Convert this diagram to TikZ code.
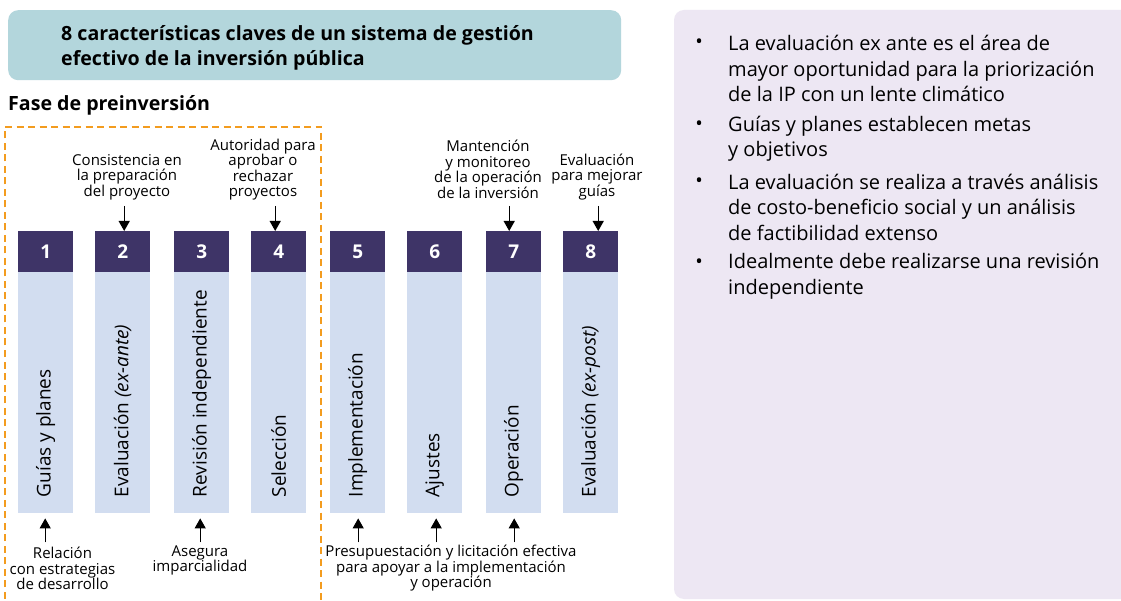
\documentclass[tikz,border=0pt]{standalone}
\usepackage{fontspec}
\setmainfont{Open Sans}
\usetikzlibrary{arrows.meta,calc}
\definecolor{titlebg}{HTML}{B3D6DC}
\definecolor{hdrcol}{HTML}{3E3467}
\definecolor{bodycol}{HTML}{D2DDF0}
\definecolor{panelcol}{HTML}{EDE7F3}
\definecolor{dashcol}{HTML}{F39C1F}
\begin{document}
\begin{tikzpicture}[x=1pt,y=-1pt,
  hdrbox/.style={fill=hdrcol, text=white, font=\fontsize{19}{20}\selectfont\bfseries, minimum width=55pt, minimum height=41pt, inner sep=0pt, anchor=north west},
  bodybox/.style={fill=bodycol, minimum width=55pt, minimum height=241pt, inner sep=0pt, anchor=north west},
  vtext/.style={rotate=90, anchor=west, inner sep=0pt, font=\fontsize{19}{20}\selectfont},
  lab/.style={align=center, inner sep=0pt, font=\fontsize{15}{15.5}\selectfont},
  arr/.style={line width=1.2pt, -{Triangle[width=11pt,length=10pt]}},
  bul/.style={inner sep=0pt, font=\fontsize{20}{25.5}\selectfont},
  btxt/.style={inner sep=0pt, anchor=west, align=left, font=\fontsize{20}{25.5}\selectfont},
  headtxt/.style={inner sep=0pt, align=left, font=\fontsize{19.6}{25}\selectfont\bfseries}
]
\useasboundingbox (0,0) rectangle (1121,601);
\fill[white] (0,0) rectangle (1121,601);

% right panel
\fill[panelcol, rounded corners=10pt] (674,10) rectangle (1140,599);

% title
\node[fill=titlebg, rounded corners=10pt, minimum width=613pt, minimum height=70pt, inner sep=0pt, anchor=north west] (titlebox) at (8,10) {};
\node[headtxt, anchor=west] (title) at (61,47.5) {8 características claves de un sistema de gestión\\efectivo de la inversión pública};
\node[headtxt, anchor=west] (fase) at (8,105) {Fase de preinversión};

% dashed frame
\draw[dashcol, line width=1.8pt, dash pattern=on 7pt off 4.5pt] (5,610) -- (5,127) -- (321,127) -- (321,610);

% boxes
\foreach \i/\x in {1/18,2/95,3/174,4/251,5/330,6/407,7/486,8/563}{
  \node[bodybox] (b\i) at (\x,272) {};
  \node[hdrbox] (h\i) at (\x,231) {\i};
}
\node[vtext] (t1) at ($(b1.south)+(0,-16)$) {Guías y planes};
\node[vtext] (t2) at ($(b2.south)+(0,-16)$) {Evaluación \textit{(ex-ante)}};
\node[vtext] (t3) at ($(b3.south)+(0,-16)$) {Revisión independiente};
\node[vtext] (t4) at ($(b4.south)+(0,-16)$) {Selección};
\node[vtext] (t5) at ($(b5.south)+(0,-16)$) {Implementación};
\node[vtext] (t6) at ($(b6.south)+(0,-16)$) {Ajustes};
\node[vtext] (t7) at ($(b7.south)+(0,-16)$) {Operación};
\node[vtext] (t8) at ($(b8.south)+(0,-16)$) {Evaluación \textit{(ex-post)}};

% top labels
\node[lab] (l2) at (127,177) {Consistencia en\\la preparación\\del proyecto};
\node[lab] (l4) at (263,169.5) {Autoridad para\\aprobar o\\rechazar\\proyectos};
\node[lab] (l7) at (488,169.5) {Mantención\\y monitoreo\\de la operación\\de la inversión};
\node[lab] (l8) at (597,177) {Evaluación\\para mejorar\\guías};

\draw[arr] ($(h2.north)+(1.5,-25)$) -- ($(h2.north)+(1.5,0)$);
\draw[arr] ($(h4.north)+(-3.5,-25)$) -- ($(h4.north)+(-3.5,0)$);
\draw[arr] ($(h7.north)+(-4.5,-25)$) -- ($(h7.north)+(-4.5,0)$);
\draw[arr] ($(h8.north)+(7.5,-25)$) -- ($(h8.north)+(7.5,0)$);

% bottom labels
\node[lab] (l1) at (62.5,568.5) {Relación\\con estrategias\\de desarrollo};
\node[lab] (l3) at (200,560.5) {Asegura\\imparcialidad};
\node[lab] (l5) at (451,568.5) {Presupuestación y licitación efectiva\\para apoyar a la implementación\\y operación};

\draw[arr] ($(b1.south)+(-0.5,29)$) -- ($(b1.south)+(-0.5,5)$);
\draw[arr] ($(b3.south)+(-1.5,29)$) -- ($(b3.south)+(-1.5,5)$);
\draw[arr] ($(b5.south)+(0.5,29)$) -- ($(b5.south)+(0.5,5)$);
\draw[arr] ($(b6.south)+(1.5,29)$) -- ($(b6.south)+(1.5,5)$);
\draw[arr] ($(b7.south)+(0.5,29)$) -- ($(b7.south)+(0.5,5)$);

% bullets
\node[bul] (d1) at (699,44) {•};
\node[btxt] (p1) at (728,68.5) {La evaluación ex ante es el área de\\mayor oportunidad para la priorización\\de la IP con un lente climático};
\node[bul] (d2) at (699,126) {•};
\node[btxt] (p2) at (728,138.5) {Guías y planes establecen metas\\y objetivos};
\node[bul] (d3) at (699,183) {•};
\node[btxt] (p3) at (728,207) {La evaluación se realiza a través análisis\\de costo-beneficio social y un análisis\\de factibilidad extenso};
\node[bul] (d4) at (699,264) {•};
\node[btxt] (p4) at (728,276) {Idealmente debe realizarse una revisión\\independiente};
\end{tikzpicture}
\end{document}
